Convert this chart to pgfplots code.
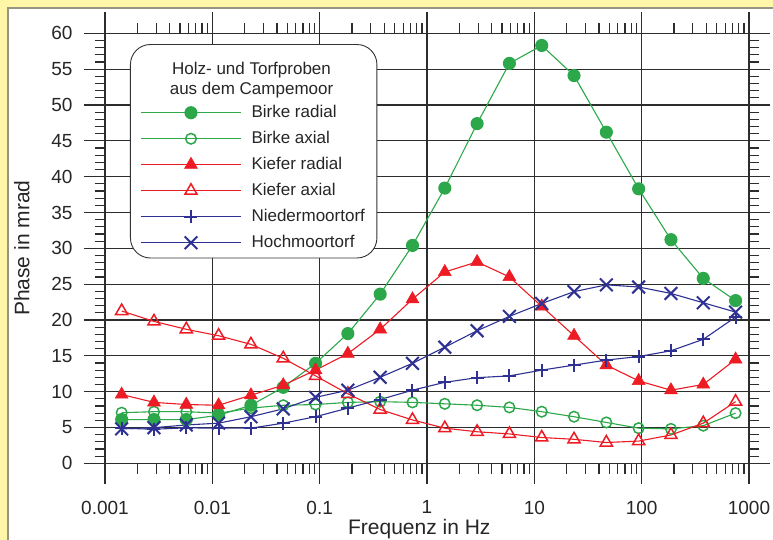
\documentclass[border=0pt]{standalone}
\usepackage{fontspec}
\setmainfont{Liberation Sans}
\setsansfont{Liberation Sans}
\usepackage{pgfplots}
\pgfplotsset{compat=1.18}
\usepackage{pgfplotstable}
\definecolor{bggelb}{RGB}{255,246,168}
\definecolor{framegray}{RGB}{150,148,128}
\definecolor{cgreen}{RGB}{44,168,74}
\definecolor{cred}{RGB}{237,28,36}
\definecolor{cblue}{RGB}{46,49,146}
\definecolor{gridc}{RGB}{45,45,45}

\pgfplotstableread{
f       br     ba     kr     ka     nm     hm
0.00143 6.1    7.06   9.6    21.25  4.9    4.8
0.00286 6.1    7.2    8.5    19.8   4.75   4.97
0.00572 6.1    7.2    8.2    18.7   4.95   5.35
0.01144 6.7    7.0    8.1    17.8   4.9    5.6
0.02289 8.1    7.7    9.5    16.6   4.9    6.5
0.04578 10.6   8.1    10.9   14.65  5.6    7.6
0.09155 13.95  8.2    13.0   12.2   6.5    9.2
0.1831  18.1   8.5    15.3   9.7    7.7    10.2
0.3662  23.6   8.6    18.7   7.5    8.9    12.0
0.7324  30.4   8.5    22.9   6.05   10.2   13.95
1.465   38.4   8.3    26.7   4.9    11.3   16.2
2.930   47.4   8.1    28.1   4.4    11.95  18.5
5.859   55.8   7.8    26.0   4.1    12.2   20.5
11.72   58.3   7.2    21.9   3.6    13.0   22.3
23.44   54.1   6.5    17.8   3.35   13.7   23.95
46.88   46.2   5.7    13.7   2.9    14.4   24.9
93.75   38.3   4.9    11.5   3.1    14.9   24.6
187.5   31.2   4.8    10.2   3.95   15.7   23.7
375     25.8   5.25   11.0   5.6    17.3   22.4
750     22.7   7.0    14.5   8.6    20.4   21.1
}\datatable

\begin{document}
\begin{tikzpicture}[x=1pt,y=1pt]
\useasboundingbox (0,0) rectangle (773,540);
\fill[bggelb] (0,0) rectangle (773,540);
\fill[white] (8,0) rectangle (773,532);
\draw[framegray, line width=1.6pt] (8,0) -- (8,532) -- (773,532);
\begin{scope}
\clip (0,0) rectangle (773,540);
\begin{axis}[
  at={(105pt,76.7pt)}, anchor=south west,
  scale only axis, width=644pt, height=430pt,
  xmode=log, xmin=0.001, xmax=1000, ymin=0, ymax=60,
  axis line style={gridc, line width=1.2pt},
  every tick/.style={gridc, line width=1.2pt},
  major tick length=21pt, minor tick length=10.5pt,
  tick align=outside,
  grid=major, major grid style={gridc, line width=1.1pt},
  xtick={0.001,0.01,0.1,1,10,100,1000},
  xticklabels={0.001,0.01,0.1,1,10,100,1000},
  minor xtick={0.002,0.003,0.004,0.005,0.006,0.007,0.008,0.009,
               0.02,0.03,0.04,0.05,0.06,0.07,0.08,0.09,
               0.2,0.3,0.4,0.5,0.6,0.7,0.8,0.9,
               2,3,4,5,6,7,8,9,
               20,30,40,50,60,70,80,90,
               200,300,400,500,600,700,800,900},
  ytick={0,5,...,60},
  minor y tick num=4,
  /pgf/number format/assume math mode=true,
  ticklabel style={font=\fontsize{19}{23}\selectfont, text=black!85},
  xticklabel style={yshift=-13pt},
  yticklabel style={xshift=-8pt},
  label style={font=\fontsize{21}{25}\selectfont, text=black!85},
  xlabel={Frequenz in Hz}, ylabel={Phase in mrad},
  xlabel style={at={(axis description cs:0.488,-0.1665)}, anchor=base},
  ylabel style={at={(axis description cs:-0.129,0.5)}, anchor=center},
  legend style={at={(axis description cs:0.0388,0.975)}, anchor=north west,
    draw=black!80, line width=0.9pt, rounded corners=20pt, fill=white,
    font=\fontsize{17}{20}\selectfont, text=black!85,
    inner xsep=10pt, inner ysep=5pt, row sep=5.5pt, column sep=8pt,
    nodes={inner xsep=2pt, inner ysep=2pt, text height=13pt, text depth=3.5pt}},
  legend cell align=left,
  legend image code/.code={\draw[sharp corners, mark repeat=2, mark phase=2, #1] plot coordinates {(0pt,0pt) (50pt,0pt) (100pt,0pt)};},
]
\addlegendimage{empty legend}
\addlegendentry[text height=, text depth=0.5pt]{\makebox[0pt][c]{\begin{tabular}[b]{@{}c@{}}\rule{0pt}{23pt}Holz- und Torfproben\\aus dem Campemoor\end{tabular}}}

\addplot[cgreen, line width=1.1pt, mark=*, mark size=6pt, mark options={solid, fill=cgreen, draw=cgreen}] table[x=f,y=br]{\datatable};
\addlegendentry{Birke radial}
\addplot[cgreen, line width=1.1pt, mark=o, mark size=5.3pt, mark options={solid, line width=1.5pt}] table[x=f,y=ba]{\datatable};
\addlegendentry{Birke axial}
\addplot[cred, line width=1.1pt, mark=triangle*, mark size=7.5pt, mark options={solid, fill=cred, line width=0.5pt}] table[x=f,y=kr]{\datatable};
\addlegendentry{Kiefer radial}
\addplot[cred, line width=1.1pt, mark=triangle, mark size=7pt, mark options={solid, line width=1.5pt}] table[x=f,y=ka]{\datatable};
\addlegendentry{Kiefer axial}
\addplot[cblue, line width=1.1pt, mark=+, mark size=6.5pt, mark options={solid, line width=2pt}] table[x=f,y=nm]{\datatable};
\addlegendentry{Niedermoortorf}
\addplot[cblue, line width=1.1pt, mark=x, mark size=9pt, mark options={solid, line width=2pt}] table[x=f,y=hm]{\datatable};
\addlegendentry{Hochmoortorf}
\end{axis}
\end{scope}
\end{tikzpicture}
\end{document}
